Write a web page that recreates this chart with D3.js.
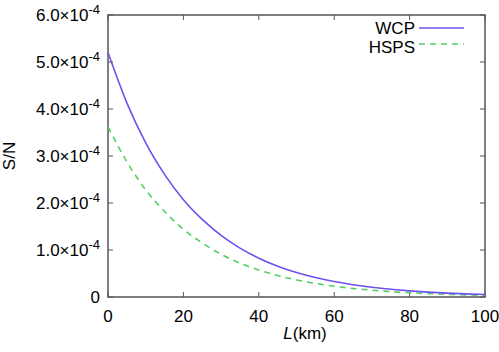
<!DOCTYPE html>
<html>
<head>
<meta charset="utf-8">
<script src="https://cdn.jsdelivr.net/npm/d3@7"></script>
<style>
  body { margin: 0; background: #fff; }
  text { font-family: "Liberation Sans", Arial, sans-serif; fill: #000; }
</style>
</head>
<body>
<div id="chart"></div>
<script>
// distance in km
var dist = [0, 5, 10, 15, 20, 25, 30, 35, 40, 45, 50, 55, 60, 65, 70, 75, 80, 85, 90, 95, 100];
// S/N values (x 1e-4)
var wcp  = [5.20, 4.13, 3.28, 2.61, 2.07, 1.65, 1.31, 1.04, 0.826, 0.656, 0.521, 0.414, 0.329, 0.262, 0.208, 0.165, 0.131, 0.104, 0.083, 0.066, 0.052];
var hsps = [3.62, 2.88, 2.28, 1.82, 1.44, 1.15, 0.91, 0.72, 0.575, 0.457, 0.363, 0.289, 0.229, 0.182, 0.145, 0.115, 0.091, 0.072, 0.058, 0.046, 0.037];
var xTicks = [0, 20, 40, 60, 80, 100];
var yTicks = [0, 1, 2, 3, 4, 5, 6];

var width = 499, height = 352;
var margin = {top: 15, right: 14, bottom: 55, left: 108};

var svg = d3.select("#chart").append("svg")
    .attr("width", width)
    .attr("height", height);

var x = d3.scaleLinear().domain([0, 100]).range([margin.left, width - margin.right]);
var y = d3.scaleLinear().domain([0, 6]).range([height - margin.bottom, margin.top]);

var axisColor = "#555";

// ticks on all four sides, pointing inward
var tickLen = 5;
xTicks.forEach(function(t){
    svg.append("line").attr("x1", x(t)).attr("x2", x(t))
        .attr("y1", y(0)).attr("y2", y(0) - tickLen)
        .attr("stroke", axisColor).attr("stroke-width", 1);
    svg.append("line").attr("x1", x(t)).attr("x2", x(t))
        .attr("y1", y(6)).attr("y2", y(6) + tickLen)
        .attr("stroke", axisColor).attr("stroke-width", 1);
    svg.append("text").attr("x", x(t)).attr("y", y(0) + 25)
        .attr("text-anchor", "middle").attr("font-size", 17).text(t);
});

yTicks.forEach(function(t){
    svg.append("line").attr("x1", x(0)).attr("x2", x(0) + tickLen)
        .attr("y1", y(t)).attr("y2", y(t))
        .attr("stroke", axisColor).attr("stroke-width", 1);
    svg.append("line").attr("x1", x(100)).attr("x2", x(100) - tickLen)
        .attr("y1", y(t)).attr("y2", y(t))
        .attr("stroke", axisColor).attr("stroke-width", 1);
    var lab = svg.append("text").attr("x", 100).attr("y", y(t) + 6)
        .attr("text-anchor", "end").attr("font-size", 17);
    if (t == 0) {
        lab.text("0");
    } else {
        lab.append("tspan").text(t.toFixed(1) + "\u00d710");
        lab.append("tspan").attr("font-size", 13).attr("dy", -7).text("-4");
    }
});

// frame
svg.append("rect")
    .attr("x", x(0)).attr("y", y(6))
    .attr("width", x(100) - x(0)).attr("height", y(0) - y(6))
    .attr("fill", "none").attr("stroke", axisColor).attr("stroke-width", 1.5);

var line = d3.line().curve(d3.curveMonotoneX);

function pts(vals) {
    return dist.map(function(d, i){ return [x(d), y(vals[i])]; });
}

var blue = "#7050f0", green = "#50d060";

svg.append("path").attr("d", line(pts(hsps)))
    .attr("fill", "none").attr("stroke", green).attr("stroke-width", 1.6)
    .attr("stroke-dasharray", "6,5");
svg.append("path").attr("d", line(pts(wcp)))
    .attr("fill", "none").attr("stroke", blue).attr("stroke-width", 1.6);

// legend
svg.append("text").attr("x", 415).attr("y", 34).attr("text-anchor", "end")
    .attr("font-size", 17).text("WCP");
svg.append("line").attr("x1", 419).attr("x2", 464).attr("y1", 28).attr("y2", 28)
    .attr("stroke", blue).attr("stroke-width", 1.6);
svg.append("text").attr("x", 415).attr("y", 53).attr("text-anchor", "end")
    .attr("font-size", 17).text("HSPS");
svg.append("line").attr("x1", 419).attr("x2", 464).attr("y1", 44).attr("y2", 44)
    .attr("stroke", green).attr("stroke-width", 1.6).attr("stroke-dasharray", "6,5");

// axis titles
svg.append("text")
    .attr("transform", "translate(15," + y(3) + ") rotate(-90)")
    .attr("text-anchor", "middle").attr("font-size", 17).text("S/N");

var xt = svg.append("text").attr("x", 305).attr("y", 339)
    .attr("text-anchor", "middle").attr("font-size", 17);
xt.append("tspan").attr("font-style", "italic").text("L");
xt.append("tspan").text("(km)");
</script>
</body>
</html>
